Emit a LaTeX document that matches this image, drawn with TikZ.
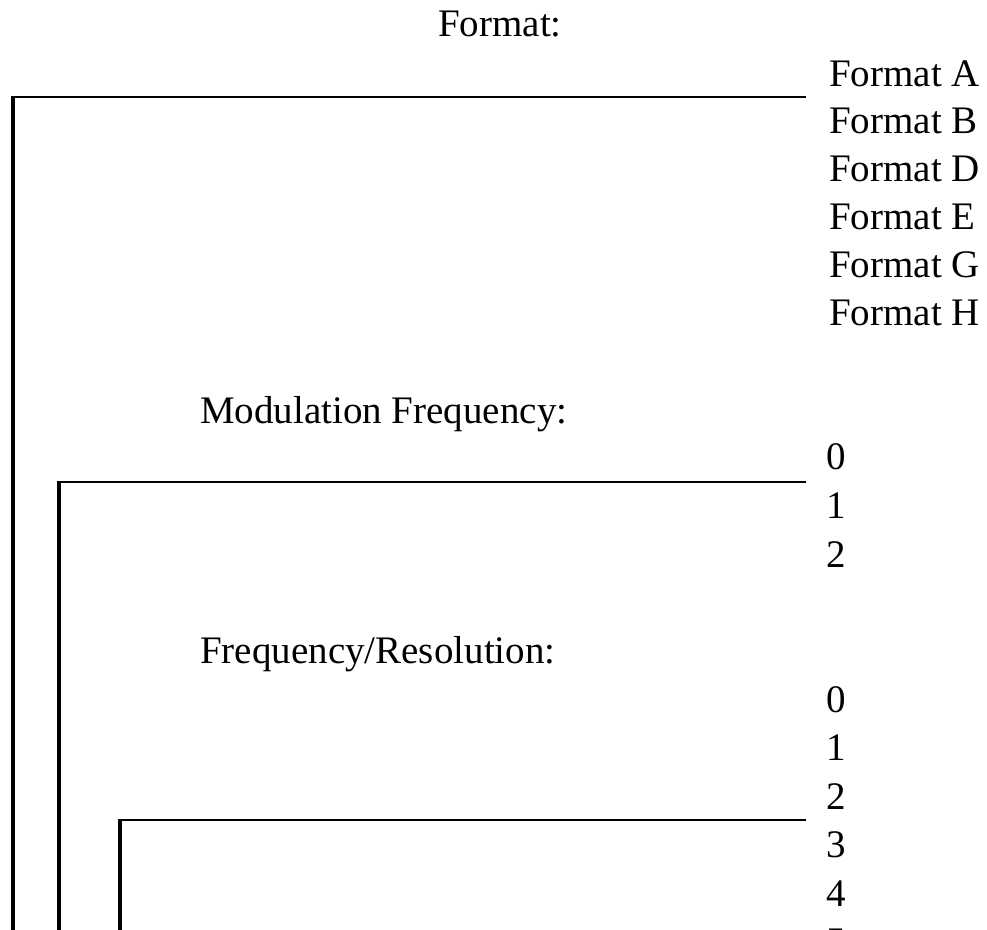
\documentclass[tikz,border=0pt]{standalone}
\usepackage{fontspec}
\setmainfont{Liberation Serif}
\begin{document}
\begin{tikzpicture}[x=1pt,y=-1pt,
  txt/.style={anchor=base west,inner sep=0pt,font=\fontsize{39}{47}\selectfont},
  vline/.style={draw=black,line width=4pt},
  hline/.style={draw=black,line width=2.8pt}]
\useasboundingbox (0,0) rectangle (987,929);
% titles
\node[txt,anchor=base] (tFormat) at (500,36) {Format:};
\node[txt] (tMod) at (200,423) {Modulation Frequency:};
\node[txt] (tFreq) at (200,663) {Frequency/Resolution:};
% format options
\foreach \n/\l [count=\i from 0] in {fA/A,fB/B,fD/D,fE/E,fG/G,fH/H}
  \node[txt] (\n) at (829,86+47.8*\i) {Format \l};
% modulation options
\foreach \d in {0,1,2}
  \node[txt] (m\d) at (826,469+49*\d) {\d};
% frequency options
\foreach \d in {0,...,5}
  \node[txt] (r\d) at (826,712+48.5*\d) {\d};
% brackets
\coordinate (b1s) at (13,935);
\coordinate (b1c) at (13,97);
\coordinate (b1e) at (806,97);
\coordinate (b2s) at (59,935);
\coordinate (b2c) at (59,482);
\coordinate (b2e) at (806,482);
\coordinate (b3s) at (120,935);
\coordinate (b3c) at (120,820);
\coordinate (b3e) at (806,820);
\draw[vline] (b1s) -- ([yshift=-1.1pt]b1c);
\draw[hline,line width=2.2pt] ([xshift=-2pt]b1c) -- (b1e);
\draw[vline] (b2s) -- ([yshift=-1.4pt]b2c);
\draw[hline] ([xshift=-2pt]b2c) -- (b2e);
\draw[vline] (b3s) -- ([yshift=-1.4pt]b3c);
\draw[hline] ([xshift=-2pt]b3c) -- (b3e);
\end{tikzpicture}
\end{document}
